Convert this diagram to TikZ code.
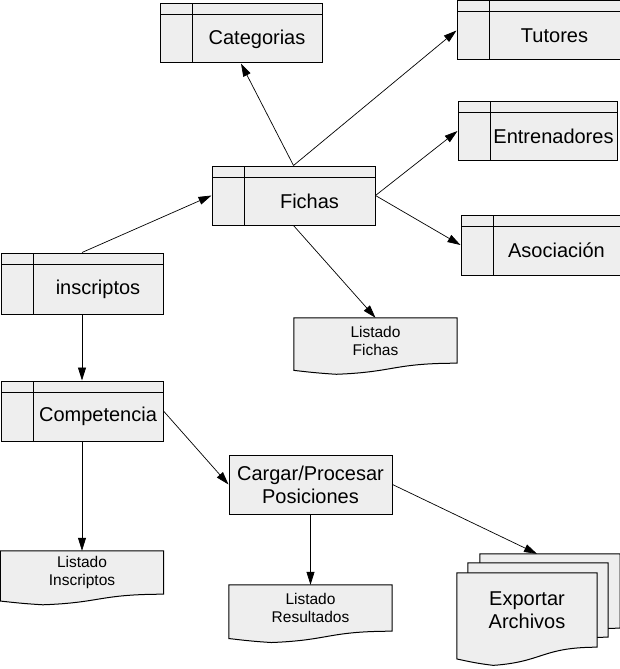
\documentclass[tikz,border=0pt]{standalone}
\usepackage{fontspec}
\setmainfont{Liberation Sans}
\usepackage{tikz}
\usetikzlibrary{calc}
\usetikzlibrary{arrows.meta}
\usetikzlibrary{backgrounds}
\definecolor{gris}{RGB}{238,238,238}
\newcommand{\fsgrande}{\fontsize{20}{23}\selectfont}
\newcommand{\fschica}{\fontsize{15.5}{18}\selectfont}
\newcommand{\contorno}[2][]{%
	\begin{scope}[x={($(#2.north east)-(#2.north west)$)},y={($(#2.south west)-(#2.north west)$)},shift={(#2.north west)},#1]
		\filldraw[fill=gris,line width=1pt] (0,0) -- (1,0) -- (1,1) .. controls (0.604,1.0) and (0.618,1.196) .. (0.26,1.244) .. controls (0.132,1.215) and (0.086,1.192) .. (0,1.158) -- cycle;
	\end{scope}}

\begin{document}
\begin{tikzpicture}[x=1pt,y=-1pt,
		tabla/.style={rectangle,draw,fill=gris,line width=1pt,minimum width=162pt,minimum height=59pt,inner sep=0pt,
			path picture={
				\draw[line width=1pt] ([yshift=-11pt]path picture bounding box.north west) -- ([yshift=-11pt]path picture bounding box.north east);
				\draw[line width=1pt] ([xshift=32pt]path picture bounding box.north west) -- ([xshift=32pt]path picture bounding box.south west);},
			label={[font=\fsgrande,xshift=16pt,yshift=-5.5pt]center:#1}},
		caja/.style={rectangle,draw,fill=gris,line width=1pt,minimum width=163pt,minimum height=59pt,inner sep=0pt,align=center,font=\fsgrande},
		hoja/.style={rectangle,minimum width=163pt,minimum height=45pt,inner sep=0pt,align=center,font=\fschica},
		flecha/.style={-{Triangle[length=13pt,width=8pt]},line width=0.7pt}
		]
		\useasboundingbox (0,0) rectangle (620,669);

		% tablas
		\node (categorias) [tabla=Categorias] at (241,33.5) {};
		\node (tutores) [tabla=Tutores,minimum width=163pt] at (538.5,30.5) {};
		\node (entrenadores) [tabla=Entrenadores,minimum width=159pt] at (537.5,131) {};
		\node (fichas) [tabla=Fichas,minimum width=163pt] at (293.5,195.5) {};
		\node (asociacion) [tabla=Asociación,minimum width=159pt,minimum height=60pt] at (540.5,245) {};
		\node (inscriptos) [tabla=inscriptos,minimum height=61pt] at (82,283.5) {};
		\node (competencia) [tabla=Competencia,minimum height=60pt] at (82,411) {};

		\node (cargar) [caja] at (310.5,484.5) {Cargar/Procesar\\Posiciones};

		% listados
		\node (lfichas) [hoja] at (375.5,340.5) {Listado\\Fichas};
		\node (linscriptos) [hoja,minimum height=43pt] at (82,572.5) {Listado\\Inscriptos};
		\node (lresultados) [hoja,minimum height=46pt] at (310.5,608) {Listado\\Resultados};
		\node (exportar) [hoja,minimum width=140pt,minimum height=74pt,font=\fsgrande] at (527,610) {Exportar\\Archivos};
		\coordinate (fondo) at ([xshift=10pt,yshift=19pt]exportar.north);

		\begin{scope}[on background layer]
			\contorno[xshift=23pt,yshift=19pt]{exportar}
			\contorno[xshift=11pt,yshift=10pt]{exportar}
			\contorno{exportar}
			\contorno{lfichas}
			\contorno{linscriptos}
			\contorno{lresultados}
		\end{scope}

		\draw[flecha] (inscriptos.north) -- (fichas.west);
		\draw[flecha] (fichas.north) -- (categorias.south);
		\draw[flecha] (fichas.north) -- (tutores.west);
		\draw[flecha] (fichas.east) -- (entrenadores.west);
		\draw[flecha] (fichas.east) -- (asociacion.west);
		\draw[flecha] (fichas.south) -- (lfichas.north);
		\draw[flecha] (inscriptos.south) -- (competencia.north);
		\draw[flecha] (competencia.south) -- (linscriptos.north);
		\draw[flecha] (competencia.east) -- (cargar.west);
		\draw[flecha] (cargar.east) -- (fondo);
		\draw[flecha] (cargar.south) -- (lresultados.north);
\end{tikzpicture}
\end{document}
